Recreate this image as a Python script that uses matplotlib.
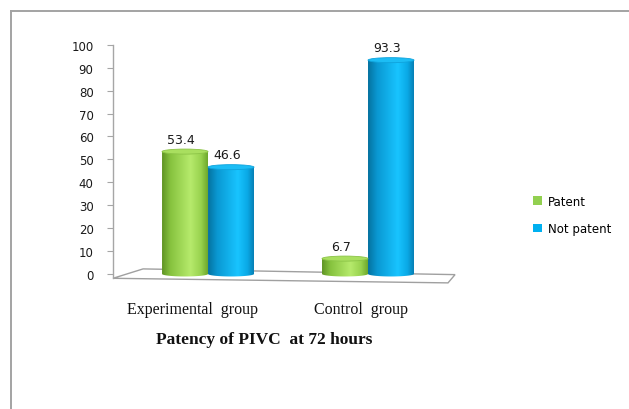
import numpy as np
import matplotlib
matplotlib.use("Agg")
import matplotlib.pyplot as plt
from matplotlib.patches import Polygon, Ellipse, Rectangle
from matplotlib.lines import Line2D

# ---- data -------------------------------------------------------------
groups = ["Experimental  group", "Control  group"]
series_names = ["Patent", "Not patent"]
patent = [53.4, 6.7]
not_patent = [46.6, 93.3]
y_ticks = [0, 10, 20, 30, 40, 50, 60, 70, 80, 90, 100]
title = "Patency of PIVC  at 72 hours"

# ---- style ------------------------------------------------------------
DPI = 100
W, H = 629, 410
bar_w = 0.2875
ell_h = 2.2  # depth of the cylinder caps, in y units

palettes = {
    "Patent": dict(stops=[(0.0, "#5f9424"), (0.18, "#86c23e"), (0.62, "#b6ea6c"),
                          (0.85, "#98d24e"), (1.0, "#6da82c")],
                   cap="#a9df5f", cap_edge="#8cc447", legend="#92d050"),
    "Not patent": dict(stops=[(0.0, "#05729f"), (0.2, "#0a98d2"), (0.65, "#18c4ff"),
                              (0.86, "#0aa9e6"), (1.0, "#0780b5")],
                       cap="#1cbdf5", cap_edge="#0fa3dc", legend="#00b0f0"),
}


def gradient_rgb(stops, n=256):
    pos = np.array([s[0] for s in stops])
    cols = np.array([matplotlib.colors.to_rgb(s[1]) for s in stops])
    t = np.linspace(0, 1, n)
    return np.stack([np.interp(t, pos, cols[:, k]) for k in range(3)], axis=-1)


fig = plt.figure(figsize=(W / DPI, H / DPI), dpi=DPI)
fig.patch.set_facecolor("white")

# outer frame (top and left edges)
fig.add_artist(Line2D([11 / W, 1.0], [1 - 12 / H, 1 - 12 / H],
                      transform=fig.transFigure, color="#a3a3a3", lw=1.4))
fig.add_artist(Line2D([11 / W, 11 / W], [0.0, 1 - 12 / H],
                      transform=fig.transFigure, color="#a3a3a3", lw=1.4))

x_lo, x_hi = -0.594, 1.6
y_lo, y_hi = -1.9, 100.0
ax_left = 113 / W
ax_bottom = (H - 279.3) / H
ax_top = (H - 45.8) / H
ax_width = (208 + x_hi * 160 - 113) / W
ax = fig.add_axes([ax_left, ax_bottom, ax_width, ax_top - ax_bottom])
ax.set_xlim(x_lo, x_hi)
ax.set_ylim(y_lo, y_hi)

for s in ("top", "right", "bottom"):
    ax.spines[s].set_visible(False)
ax.spines["left"].set_color("#a6a6a6")
ax.spines["left"].set_linewidth(1.0)
ax.set_yticks(y_ticks)
ax.set_yticklabels([str(v) for v in y_ticks], fontsize=8.5, color="#1a1a1a",
                   family="DejaVu Sans")
ax.tick_params(axis="y", length=4, color="#a6a6a6", pad=10)
ax.set_xticks([])

# floor of the 3-D plot area
floor = Polygon([[x_lo, -1.9], [-0.406, 2.2], [1.544, -0.3], [1.5, -3.9]],
                closed=True, facecolor="white", edgecolor="#a0a0a0", lw=1.0,
                clip_on=False, zorder=1)
ax.add_patch(floor)

x = np.arange(len(groups))
series = [("Patent", patent, x - bar_w / 2), ("Not patent", not_patent, x + bar_w / 2)]

t = np.linspace(0, np.pi, 60)
for name, vals, centers in series:
    pal = palettes[name]
    grad = gradient_rgb(pal["stops"])[None, :, :]
    bars = ax.bar(centers, vals, width=bar_w, color="none", edgecolor="none", zorder=2)
    for rect, v in zip(bars, vals):
        x0 = rect.get_x()
        w = rect.get_width()
        x1 = x0 + w
        # cylinder body with a rounded bottom
        bottom_arc = np.column_stack([x0 + w / 2 * (1 - np.cos(t)),
                                      -ell_h / 2 * np.sin(t)])
        outline = np.vstack([[[x0, v]], bottom_arc, [[x1, v]]])
        body = Polygon(outline, closed=True, facecolor="none", edgecolor="none",
                       zorder=3, clip_on=False)
        ax.add_patch(body)
        im = ax.imshow(grad, extent=[x0, x1, -ell_h, v], aspect="auto",
                       origin="lower", zorder=3, interpolation="bilinear")
        im.set_clip_path(body)
        # top cap
        cap = Ellipse((x0 + w / 2, v), w, ell_h, facecolor=pal["cap"],
                      edgecolor=pal["cap_edge"], lw=0.6, zorder=4, clip_on=False)
        ax.add_patch(cap)
        ax.annotate(f"{v:.1f}", xy=(x0 + w / 2, v), xytext=(-3, 9),
                    textcoords="offset points", ha="center", va="center",
                    fontsize=9, color="#1a1a1a", family="DejaVu Sans",
                    annotation_clip=False, zorder=5)

ax.set_xlim(x_lo, x_hi)
ax.set_ylim(y_lo, y_hi)

# category labels under the floor
label_dx = [-16, -7]
for i, (g, dx) in enumerate(zip(groups, label_dx)):
    ax.annotate(g, xy=(x[i], 0), xycoords="data", xytext=(dx / DPI * 72, -35 / DPI * 72),
                textcoords="offset points", ha="center", va="center",
                fontsize=11.5, family="Liberation Serif", color="#111111",
                annotation_clip=False)

fig.text(264 / W, 1 - 340 / H, title, ha="center", va="center",
         fontsize=12.5, fontweight="bold", family="Liberation Serif", color="#111111")

# legend
handles = [Rectangle((0, 0), 1, 1, facecolor=palettes[n]["legend"], edgecolor="none")
           for n in series_names]
fig.legend(handles, series_names, loc="center left",
           bbox_to_anchor=(533 / W, 1 - 216 / H), bbox_transform=fig.transFigure,
           frameon=False, handlelength=0.75, handleheight=0.75,
           handletextpad=0.55, labelspacing=1.2, borderpad=0, borderaxespad=0,
           prop={"family": "DejaVu Sans", "size": 8.5})

fig.savefig("out.png", dpi=DPI, facecolor="white")
